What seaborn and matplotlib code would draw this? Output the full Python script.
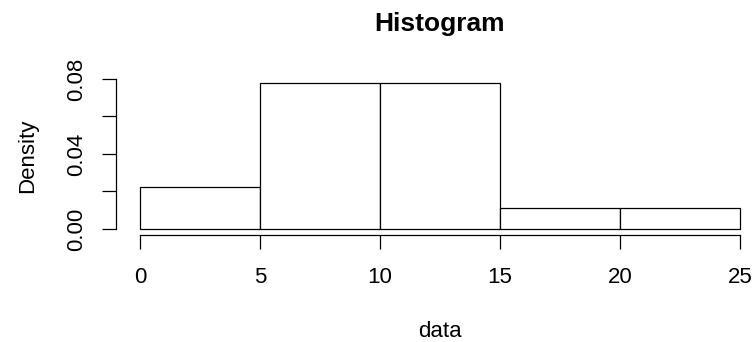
import numpy as np
import matplotlib
matplotlib.use("Agg")
import matplotlib.pyplot as plt
import seaborn as sns

# ——— Data (bin counts, n = 18) ———
bin_edges = [0, 5, 10, 15, 20, 25]
bin_counts = [2, 7, 7, 1, 1]
x_ticks = [0, 5, 10, 15, 20, 25]
y_ticks = [0.00, 0.02, 0.04, 0.06, 0.08]
y_tick_labels = ["0.00", "", "0.04", "", "0.08"]

bin_mids = [(a + b) / 2 for a, b in zip(bin_edges[:-1], bin_edges[1:])]

sns.set_style("ticks")
plt.rcParams['font.family'] = ['Liberation Sans', 'DejaVu Sans']
plt.rcParams['text.color'] = 'black'
plt.rcParams['axes.labelcolor'] = 'black'

fig = plt.figure(figsize=(7.55, 3.42), dpi=100)
ax = fig.add_axes([116 / 755, 107.2 / 342, 648 / 755, 157.5 / 342])

sns.histplot(x=bin_mids, weights=bin_counts, bins=bin_edges, stat="density",
             color="white", edgecolor="black", linewidth=0.9, alpha=1, ax=ax)

# R-style axis limits (4% extension)
ymax = max(bin_counts) / (sum(bin_counts) * 5)
ax.set_xlim(-1, 26)
ax.set_ylim(-0.04 * ymax, ymax * 1.04)

for s in ["top", "right"]:
    ax.spines[s].set_visible(False)
ax.spines["bottom"].set_bounds(0, 25)
ax.spines["left"].set_bounds(0, 0.08)
for s in ["bottom", "left"]:
    ax.spines[s].set_linewidth(0.9)
    ax.spines[s].set_color("black")

ax.set_xticks(x_ticks)
ax.set_yticks(y_ticks)
ax.set_yticklabels(y_tick_labels, rotation=90, va="center")
ax.tick_params(direction="out", length=10, width=0.9, colors="black",
               labelsize=16)
ax.tick_params(axis="x", pad=13.5)
ax.tick_params(axis="y", pad=10.5)

ax.set_xlabel("data", fontsize=16, va="baseline")
ax.set_ylabel("Density", fontsize=16, va="baseline")
ax.xaxis.set_label_coords(0.5, -0.649)
ax.yaxis.set_label_coords(-0.128, 0.5)
ax.set_title("Histogram", fontsize=19, fontweight="bold", color="black", pad=33.5)

fig.savefig("out.png", dpi=100)
